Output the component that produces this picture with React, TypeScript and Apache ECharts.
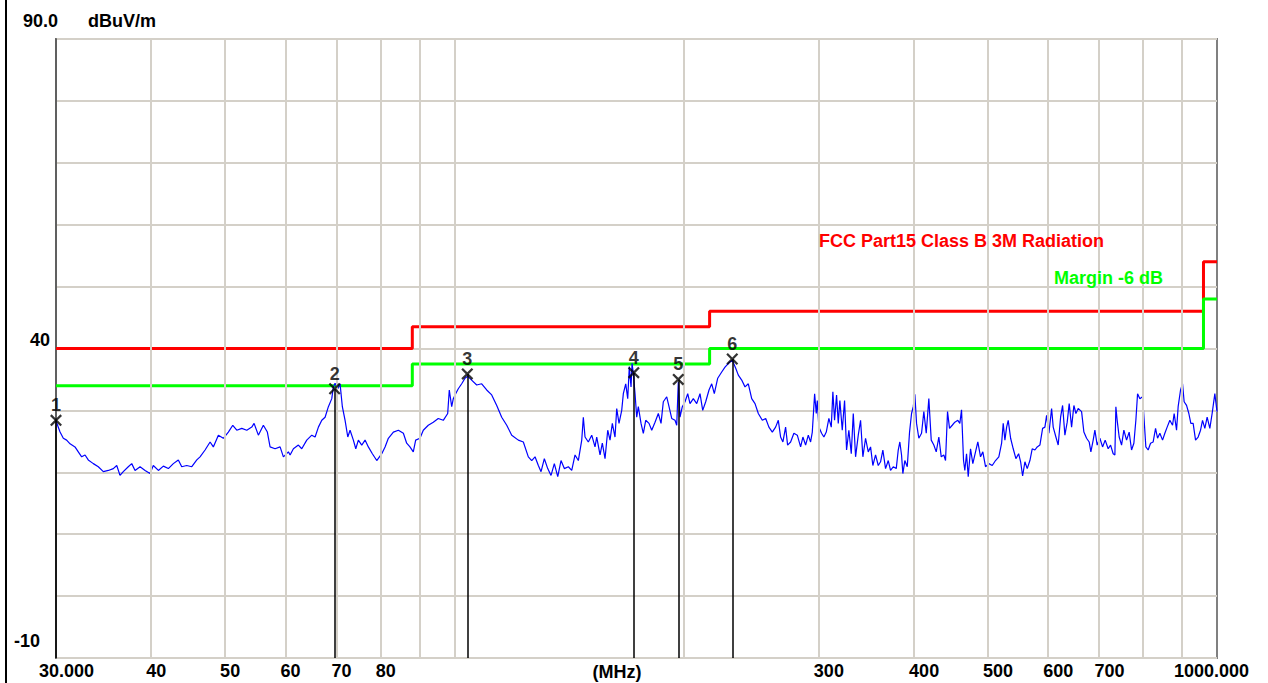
import React, { useEffect, useRef } from 'react';
import * as echarts from 'echarts';

// ---- data ----
const X_MIN = 30;
const X_MAX = 1000;
const X_GRID = [40, 50, 60, 70, 80, 90, 100, 200, 300, 400, 500, 600, 700, 800, 900];
const X_LABELED = [40, 50, 60, 70, 80, 300, 400, 500, 600, 700];
const X_EDGE_LABELS = ['30.000', '1000.000'];
const Y_MIN = -10;
const Y_MAX = 90;
const Y_STEP = 10;

const LIMIT_FREQ = [30, 88, 88, 216, 216, 960, 960, 1000];
const LIMIT_LEVEL = [40, 40, 43.5, 43.5, 46, 46, 54, 54];
const MARGIN_LEVEL = [34, 34, 37.5, 37.5, 40, 40, 48, 48];

const MARKER_IDS = ['1', '2', '3', '4', '5', '6'];
const MARKER_FREQ = [30, 69.6, 103.9, 171.8, 196.5, 231.3];
const MARKER_LEVEL = [28.4, 33.5, 35.9, 36.1, 35.0, 38.3];

const TRACE: [number, number][] = [
  [30.0, 28.3], [30.37, 26.5], [30.67, 25.5], [30.98, 25.2], [31.30, 24.6], [31.77, 24.1], [32.09, 23.3], [32.42, 22.5],
  [32.75, 22.8], [33.07, 22.0], [33.58, 21.4], [34.09, 20.9], [34.61, 20.1], [35.14, 20.3], [35.67, 20.6], [36.04, 21.1],
  [36.40, 19.5], [36.76, 20.1], [37.32, 20.9], [37.71, 21.4], [38.09, 20.3], [38.67, 20.9], [39.26, 20.3], [39.85, 19.8],
  [40.25, 21.1], [40.87, 20.3], [41.49, 21.0], [42.12, 20.6], [42.76, 21.4], [43.41, 22.0], [43.86, 20.9], [44.53, 21.1],
  [45.21, 20.9], [45.90, 22.0], [46.35, 22.5], [47.06, 23.6], [47.78, 24.9], [48.25, 24.1], [48.99, 26.0], [49.73, 25.5],
  [50.49, 26.5], [51.17, 27.6], [51.79, 26.8], [52.58, 27.1], [53.38, 26.8], [54.19, 27.3], [54.57, 27.9], [55.28, 26.0],
  [56.12, 27.6], [56.80, 26.5], [57.27, 24.1], [58.14, 23.8], [59.03, 24.1], [59.62, 22.5], [60.53, 23.3],
  [60.84, 22.8], [61.45, 23.8], [62.38, 24.4], [63.02, 23.8], [63.98, 25.2], [64.96, 26.0], [65.61, 25.7], [66.27, 27.3],
  [66.95, 28.4], [67.62, 28.9], [68.30, 30.6], [69.00, 31.9], [69.33, 33.8], [69.69, 34.4], [70.26, 33.5], [70.75, 34.3],
  [71.24, 30.6], [71.83, 28.4], [72.42, 25.7], [72.92, 26.8], [73.65, 25.2], [74.19, 23.8], [74.77, 25.2], [75.54, 24.4],
  [76.30, 25.2], [77.06, 24.1], [78.00, 23.0], [79.04, 21.9], [80.25, 23.0], [81.05, 24.1], [81.86, 25.5], [83.11, 26.5],
  [84.38, 26.8], [85.66, 26.3], [86.52, 24.7], [87.38, 24.1], [88.26, 23.3], [88.90, 25.2], [90.06, 25.5], [90.97, 26.8],
  [92.35, 27.6], [93.76, 28.1], [95.18, 28.7], [96.63, 28.4], [97.93, 29.5], [98.40, 33.3], [99.12, 30.6], [99.60, 31.9],
  [100.32, 32.7], [101.11, 33.5], [102.16, 34.3], [103.18, 35.2], [104.02, 35.5], [105.28, 34.9], [106.89, 34.1], [108.52, 34.3],
  [110.17, 33.3], [111.85, 32.5], [113.56, 30.8], [115.28, 28.9], [117.04, 27.6], [118.82, 26.0], [121.22, 25.2], [123.06, 24.9],
  [124.93, 22.5],
  [126.22, 21.9], [127.49, 22.5], [128.77, 21.1], [129.82, 20.1], [131.12, 22.2], [132.47, 20.6], [133.80, 19.5], [135.14, 21.4],
  [136.54, 19.3], [137.90, 21.9], [139.28, 20.6], [140.98, 20.9], [142.43, 20.3], [143.86, 22.8], [145.30, 21.9], [146.80, 25.2],
  [147.51, 28.9], [148.27, 25.7], [149.75, 24.9], [151.30, 26.0], [152.81, 24.1], [153.60, 25.7], [155.14, 22.8], [156.22, 24.7],
  [157.50, 22.2], [158.79, 26.8], [159.89, 25.2], [161.01, 27.9], [162.32, 25.7], [163.16, 30.3], [164.30, 27.9], [165.64, 30.0],
  [166.45, 32.7], [167.66, 34.3], [168.67, 31.9], [169.49, 37.1], [170.36, 33.8], [170.90, 37.6], [171.55, 36.0], [172.44, 32.7],
  [173.32, 28.9], [174.16, 30.6], [175.59, 27.9], [176.81, 26.3], [178.10, 28.4], [179.88, 27.9], [181.36, 26.8], [183.17, 28.1],
  [185.01, 29.5], [186.52, 27.9], [187.82, 31.4], [189.76, 32.2], [191.08, 30.6], [192.64, 28.7], [194.57, 28.4], [195.58, 27.6],
  [196.52, 34.6], [197.53, 28.9], [198.91, 30.6], [200.54, 31.4], [202.18, 32.7], [203.59, 31.1], [205.63, 31.9], [207.75, 31.1],
  [209.83, 32.7], [211.55, 30.0], [213.47, 31.4], [215.61, 33.3], [217.38, 34.3], [219.09, 32.7], [221.36, 35.2], [224.04, 36.2],
  [226.28, 37.0], [229.03, 37.7], [231.33, 38.1], [233.72, 36.8], [235.56, 35.7], [237.99, 34.9], [240.38, 33.8], [242.78, 34.3],
  [245.29, 31.9], [247.75, 31.1], [250.23, 29.5], [253.27, 28.4], [255.89, 28.7],
  [258.37, 27.3], [261.03, 26.5], [263.65, 27.3], [265.81, 28.4], [267.66, 25.7], [269.53, 24.9], [271.73, 27.3], [273.38, 24.4],
  [275.87, 24.9], [278.63, 26.3], [281.50, 26.0], [284.33, 24.1], [286.31, 25.7], [288.65, 24.4], [291.01, 26.0], [293.04, 24.9],
  [294.55, 26.5], [296.63, 32.7], [298.10, 29.5], [299.01, 31.6], [300.46, 27.3], [302.92, 26.3], [305.03, 25.7], [307.24, 26.5],
  [309.67, 28.7], [311.92, 27.3], [313.43, 33.0], [315.04, 28.4], [316.95, 32.5], [318.58, 27.9], [320.12, 31.6], [322.45, 26.8],
  [324.70, 31.6], [326.67, 23.6], [328.94, 26.8], [331.34, 23.0], [333.35, 29.5], [335.68, 22.5], [338.42, 26.0], [340.78, 28.4],
  [343.16, 22.5], [345.96, 25.5], [348.79, 23.3], [351.23, 24.1], [353.67, 21.1], [356.56, 22.8], [359.48, 21.1], [361.99, 21.7],
  [364.51, 23.6], [367.49, 20.6], [370.50, 21.9], [373.07, 20.3], [376.13, 20.9], [379.55, 20.6], [381.85, 23.6], [383.70, 24.9],
  [385.67, 22.8], [387.19, 19.8], [389.54, 21.9], [392.38, 20.9], [395.11, 26.5], [397.50, 29.5], [399.55, 30.6], [401.48, 32.6],
  [403.55, 27.9], [406.35, 25.5], [409.69, 26.3], [412.54, 29.8], [415.54, 26.3], [418.81, 31.9], [421.86, 25.2], [425.18, 24.4],
  [428.27, 23.3], [431.65, 25.7], [434.78, 22.5], [438.21, 22.8], [440.47, 21.9], [443.13, 29.8], [445.82, 27.1], [449.47, 27.6],
  [453.01, 28.1], [457.14, 28.4], [459.91, 27.9], [462.28, 30.1], [465.08, 21.9], [466.91, 20.3], [469.32, 23.0], [471.73, 19.3],
  [475.02, 23.8], [478.33, 21.4], [482.24, 23.3], [485.61, 24.9], [489.58, 22.5], [492.99, 23.3], [497.02, 20.9], [502.01, 21.4],
  [507.19, 21.1], [512.27, 21.9], [517.40, 22.5],
  [521.78, 24.7], [524.30, 27.9], [527.00, 25.2], [529.72, 27.3], [532.28, 28.4], [536.16, 25.5], [540.38, 23.8], [544.80, 22.2],
  [549.26, 23.0], [552.59, 21.7], [555.94, 19.4], [559.82, 21.7], [563.71, 20.6], [568.33, 21.9], [572.28, 23.8], [576.97, 23.6],
  [580.99, 24.1], [585.74, 24.4], [590.54, 27.1], [594.66, 27.3], [597.72, 29.2], [601.89, 26.3], [606.81, 30.3], [609.75, 27.3],
  [614.74, 25.7], [619.01, 24.4], [623.51, 28.9], [627.29, 30.8], [631.66, 26.0], [636.07, 28.1], [639.92, 31.1], [644.57, 27.3],
  [649.07, 30.8], [653.00, 29.5], [657.55, 30.3], [664.32, 29.8], [668.95, 26.5], [674.42, 25.5], [679.73, 24.9], [683.23, 23.3],
  [688.00, 25.2], [691.54, 26.8], [696.36, 24.4], [702.06, 25.5], [707.80, 24.1], [713.38, 25.2], [719.88, 23.8], [725.10, 24.4],
  [730.82, 23.0], [734.59, 22.8], [736.81, 30.6], [739.70, 28.4], [744.19, 25.7], [749.59, 24.4], [754.82, 26.8], [760.99, 25.2],
  [766.98, 26.5], [772.56, 23.6], [777.95, 24.7], [782.66, 28.4], [786.69, 32.7], [792.18, 31.9], [798.66, 32.2], [802.53, 28.4],
  [806.66, 24.1], [812.27, 23.6], [818.18, 24.7], [824.63, 24.9], [830.63, 27.1], [835.66, 25.5], [841.49, 26.3], [848.37, 25.2],
  [854.29, 26.3], [860.23, 27.3], [867.28, 28.4], [874.38, 27.6], [878.62, 29.5], [884.99, 26.8], [889.28, 30.6], [895.75, 33.3],
  [901.17, 34.3], [905.54, 31.4], [912.12, 30.8], [918.47, 29.5], [924.05, 27.9], [930.47, 27.9], [937.25, 25.2], [944.63, 25.7],
  [951.51, 26.8], [957.27, 28.4], [963.95, 27.1], [970.67, 28.9], [978.61, 27.1], [985.42, 29.5], [993.50, 32.7], [1000, 29.8],
];

const FONT = '"Liberation Sans", Arial, sans-serif';

export default function App() {
  const ref = useRef<HTMLDivElement>(null);

  useEffect(() => {
    if (!ref.current) return;
    const chart = echarts.init(ref.current, null, { renderer: 'svg' });

    const labelStyle = { color: '#000', fontFamily: FONT, fontWeight: 'bold' as const, fontSize: 18 };

    const gridLines = X_GRID.map((v) => ({
      xAxis: v,
      lineStyle: { color: '#d4d0c8', width: 2, type: 'solid' },
      label: {
        show: X_LABELED.includes(v),
        position: 'start',
        distance: 4,
        formatter: String(v),
        padding: v >= 100 ? [0, 0, 0, 21] : [0, 0, 0, 10],
        ...labelStyle,
      },
    }));

    const option: any = {
      animation: false,
      backgroundColor: '#ffffff',
      grid: {
        left: 56,
        right: 51,
        top: 39,
        bottom: 25,
        show: true,
        borderColor: '#808080',
        borderWidth: 2,
        backgroundColor: '#ffffff',
      },
      xAxis: {
        type: 'log',
        logBase: 10,
        min: X_MIN,
        max: X_MAX,
        axisLine: { show: false },
        axisTick: { show: false },
        axisLabel: { show: false },
        splitLine: { show: false },
      },
      yAxis: {
        type: 'value',
        min: Y_MIN,
        max: Y_MAX,
        interval: Y_STEP,
        axisLine: { show: true, lineStyle: { color: '#606060', width: 2 } },
        axisTick: { show: false },
        splitLine: { show: true, lineStyle: { color: '#d4d0c8', width: 2 } },
        axisLabel: {
          margin: 6,
          verticalAlign: 'bottom',
          formatter: (v: number) => (v === 40 ? '{a|40}' : v === -10 ? '{b|-10}' : ''),
          rich: {
            a: { ...labelStyle, padding: [0, 0, 0, 0] },
            b: { ...labelStyle, padding: [0, 10, 8, 0] },
          },
          ...labelStyle,
        },
      },
      graphic: [
        { type: 'rect', left: 5, top: 0, shape: { width: 2, height: 683 }, style: { fill: '#000' }, z: 100 },
        { type: 'text', x: 23, y: 21, style: { text: '90.0', fill: '#000', font: `bold 18px ${FONT}`, textVerticalAlign: 'middle' }, z: 100 },
        { type: 'text', x: 88, y: 21, style: { text: 'dBuV/m', fill: '#000', font: `bold 18px ${FONT}`, textVerticalAlign: 'middle' }, z: 100 },
        { type: 'text', x: 39, y: 671, style: { text: X_EDGE_LABELS[0], fill: '#000', font: `bold 18px ${FONT}`, textVerticalAlign: 'middle' }, z: 100 },
        { type: 'text', x: 1249, y: 671, style: { text: X_EDGE_LABELS[1], fill: '#000', font: `bold 18px ${FONT}`, textAlign: 'right', textVerticalAlign: 'middle' }, z: 100 },
        { type: 'text', x: 617, y: 672, style: { text: '(MHz)', fill: '#000', font: `bold 18px ${FONT}`, textAlign: 'center', textVerticalAlign: 'middle' }, z: 100 },
        { type: 'text', x: 819, y: 241, style: { text: 'FCC Part15 Class B 3M Radiation', fill: '#ff0000', font: `bold 18px ${FONT}`, textVerticalAlign: 'middle' }, z: 100 },
        { type: 'text', x: 1054, y: 278, style: { text: 'Margin -6 dB', fill: '#00ff00', font: `bold 18px ${FONT}`, textVerticalAlign: 'middle' }, z: 100 },
      ],
      series: [
        {
          name: 'grid',
          type: 'line',
          data: [[X_MIN, Y_MIN], [X_MAX, Y_MIN]],
          symbol: 'none',
          lineStyle: { opacity: 0 },
          z: 1,
          silent: true,
          markLine: {
            silent: true,
            symbol: 'none',
            animation: false,
            data: gridLines,
          },
        },
        {
          name: 'Limit',
          type: 'line',
          data: LIMIT_FREQ.map((f, i) => [f, LIMIT_LEVEL[i]]),
          symbol: 'none',
          lineStyle: { color: '#ff0000', width: 3 },
          z: 3,
        },
        {
          name: 'Margin',
          type: 'line',
          data: LIMIT_FREQ.map((f, i) => [f, MARGIN_LEVEL[i]]),
          symbol: 'none',
          lineStyle: { color: '#00ff00', width: 3 },
          z: 3,
        },
        {
          name: 'Trace',
          type: 'line',
          data: TRACE,
          symbol: 'none',
          lineStyle: { color: '#0000ff', width: 1.2 },
          z: 4,
        },
        {
          name: 'Markers',
          type: 'scatter',
          clip: false,
          z: 5,
          data: MARKER_FREQ.map((f, i) => ({ value: [f, MARKER_LEVEL[i]], name: MARKER_IDS[i] })),
          symbol: 'path://M0,1.6 L1.6,0 L6,4.4 L10.4,0 L12,1.6 L7.6,6 L12,10.4 L10.4,12 L6,7.6 L1.6,12 L0,10.4 L4.4,6 Z',
          symbolSize: 12,
          itemStyle: { color: '#000' },
          label: { show: true, position: 'top', distance: 0, formatter: '{b}', ...labelStyle },
          markLine: {
            silent: true,
            symbol: 'none',
            animation: false,
            label: { show: false },
            lineStyle: { color: '#000', width: 1.5, type: 'solid' },
            data: MARKER_FREQ.map((f, i) => [
              { coord: [f, MARKER_LEVEL[i]] },
              { coord: [f, Y_MIN] },
            ]),
          },
        },
      ],
    };

    chart.setOption(option);
    return () => chart.dispose();
  }, []);

  return (
    <div
      ref={ref}
      style={{ position: 'fixed', left: 0, top: 0, width: 1268, height: 683, background: '#fff' }}
    />
  );
}
